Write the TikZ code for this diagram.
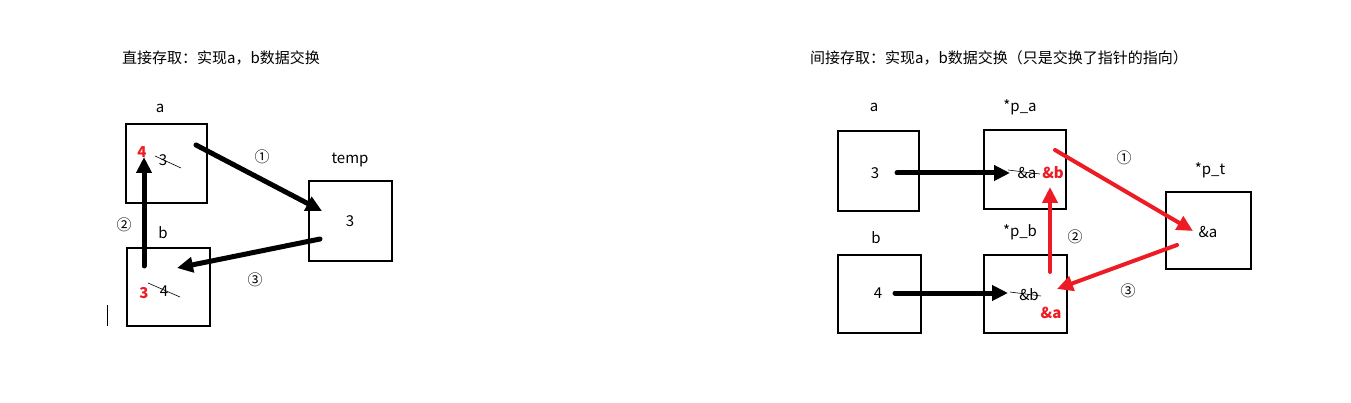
\documentclass[tikz,border=0pt]{standalone}
\usepackage{fontspec}
\setmainfont{Noto Sans CJK SC}
\usetikzlibrary{positioning}
\usetikzlibrary{arrows.meta}
\definecolor{swapred}{RGB}{237,28,36}

\begin{document}
\begin{tikzpicture}[x=1pt, y=-1pt,
cellnode/.style={rectangle, draw=black, line width=1.8pt, anchor=north west, inner sep=0pt},
titlenode/.style={font=\fontsize{15}{18}\selectfont, anchor=west, inner sep=0pt},
labelnode/.style={font=\fontsize{15}{18}\selectfont},
valnode/.style={font=\fontsize{15}{18}\selectfont, inner sep=0pt},
newnode/.style={font=\fontsize{15}{18}\selectfont\bfseries, text=swapred, inner sep=0pt},
movearrow/.style={line width=5pt, line cap=round, -{Triangle[length=16pt, width=15pt]}},
redarrow/.style={swapred, line width=4pt, line cap=round, -{Triangle[length=16pt, width=15pt]}},
]
\useasboundingbox (0,0) rectangle (1351,403);

%Left: direct swap
\node[titlenode]	(title1)	at (122,58)		{直接存取：实现a，b数据交换};
\node[cellnode, minimum width=81pt, minimum height=79pt]	(cella)	at (125,123)	{};
\node[cellnode, minimum width=83pt, minimum height=78pt]	(cellb)	at (126,247)	{};
\node[cellnode, minimum width=83pt, minimum height=80pt]	(celltemp)	at (308,180)	{};
\node[labelnode]	(laba)		at (160,108)	{a};
\node[labelnode]	(labb)		at (163,233)	{b};
\node[labelnode]	(labtemp)	at (350,160)	{temp};
\node[newnode]		(newa)		at (142,152)	{4};
\node[valnode]		(olda)		at (163,160)	{3};
\node[newnode]		(newb)		at (144,293)	{3};
\node[valnode]		(oldb)		at (164,291)	{4};
\node[valnode]		(valtemp)	at (350,221)	{3};
\draw[line width=0.6pt] (155,156) -- (181,168);
\draw[line width=0.6pt] (148,283) -- (180,297);
\draw[line width=1pt] (107,305) -- (107,326);

\coordinate (s1) at (196,145);
\coordinate (e1) at (322,211);
\coordinate (s2) at (144,266);
\coordinate (e2) at (144,157);
\coordinate (s3) at (320,239);
\coordinate (e3) at (177,268);
\draw[movearrow] (s1) -- (e1);
\draw[movearrow] (s2) -- (e2);
\draw[movearrow] (s3) -- (e3);
\node[labelnode]	(step1)		at (262,157)	{①};
\node[labelnode]	(step2)		at (124,225)	{②};
\node[labelnode]	(step3)		at (255,280)	{③};

%Right: indirect swap
\node[titlenode]	(title2)	at (810,58)		{间接存取：实现a，b数据交换（只是交换了指针的指向）};
\node[cellnode, minimum width=81pt, minimum height=80pt]	(ra)	at (837,130)	{};
\node[cellnode, minimum width=82pt, minimum height=79pt]	(rpa)	at (983,129)	{};
\node[cellnode, minimum width=85pt, minimum height=77pt]	(rpt)	at (1165,191)	{};
\node[cellnode, minimum width=83pt, minimum height=78pt]	(rb)	at (837,254)	{};
\node[cellnode, minimum width=83pt, minimum height=78pt]	(rpb)	at (983,254)	{};
\node[labelnode]	(labra)		at (874,107)	{a};
\node[labelnode]	(labrpa)	at (1020,107)	{*p\_a};
\node[labelnode]	(labrb)		at (876,238)	{b};
\node[labelnode]	(labrpb)	at (1020,232)	{*p\_b};
\node[labelnode]	(labrpt)	at (1210,170)	{*p\_t};
\node[valnode]		(valra)		at (875,173)	{3};
\node[valnode]		(valrb)		at (878,293)	{4};
\node[valnode]		(oldpa)		at (1027,173)	{\&a};
\node[newnode]		(newpa)		at (1053,173)	{\&b};
\node[valnode]		(oldpb)		at (1029,295)	{\&b};
\node[newnode]		(newpb)		at (1051,313)	{\&a};
\node[valnode]		(valpt)		at (1208,232)	{\&a};
\draw[line width=0.6pt] (1008,170) -- (1040,174);
\draw[line width=0.6pt] (1010,292) -- (1041,296);

\coordinate (ra1) at (897,173);
\coordinate (ra2) at (1010,173);
\coordinate (rb1) at (895,293);
\coordinate (rb2) at (1008,293);
\coordinate (r1s) at (1055,150);
\coordinate (r1e) at (1193,231);
\coordinate (r2s) at (1050,272);
\coordinate (r2e) at (1050,187);
\coordinate (r3s) at (1177,245);
\coordinate (r3e) at (1057,289);
\draw[movearrow] (ra1) -- (ra2);
\draw[movearrow] (rb1) -- (rb2);
\draw[redarrow] (r1s) -- (r1e);
\draw[redarrow] (r2s) -- (r2e);
\draw[redarrow] (r3s) -- (r3e);
\node[labelnode]	(rstep1)	at (1124,158)	{①};
\node[labelnode]	(rstep2)	at (1075,237)	{②};
\node[labelnode]	(rstep3)	at (1128,291)	{③};
\end{tikzpicture}
\end{document}
